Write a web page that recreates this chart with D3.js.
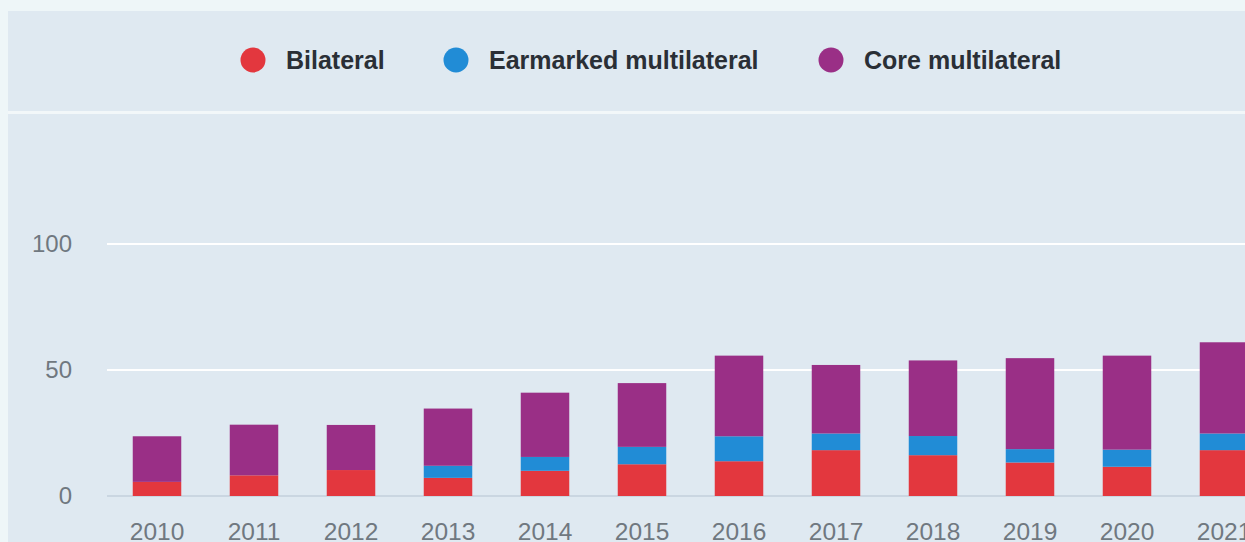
<!DOCTYPE html>
<html>
<head>
<meta charset="utf-8">
<script src="https://cdn.jsdelivr.net/npm/d3@7"></script>
<style>
  html, body { margin: 0; padding: 0; background: #eef6f8; }
  svg { display: block; }
</style>
</head>
<body>
<svg id="chart" width="1245" height="542"></svg>
<script>
// Aid flows by channel, 2010–2021
const years = ["2010","2011","2012","2013","2014","2015","2016","2017","2018","2019","2020","2021"];
const bilateral = [5.6, 8.2, 10.3, 7.2, 10.0, 12.6, 13.8, 18.2, 16.2, 13.3, 11.6, 18.2];
const earmarked = [0, 0, 0, 4.8, 5.5, 6.9, 9.9, 6.6, 7.6, 5.3, 6.8, 6.6];
const core = [18.1, 20.1, 17.9, 22.7, 25.5, 25.3, 32.0, 27.2, 30.0, 36.1, 37.3, 36.2];
const seriesNames = ["Bilateral", "Earmarked multilateral", "Core multilateral"];
const seriesColors = ["#e3373e", "#218cd6", "#9a2f86"];
const yTicks = [0, 50, 100];

const W = 1245, H = 542;
const svg = d3.select("#chart");

// panel background
svg.append("rect").attr("x", 8).attr("y", 11).attr("width", W - 8).attr("height", H - 11)
  .attr("fill", "#dfe9f1");
// separator between legend and plot
svg.append("rect").attr("x", 8).attr("y", 111).attr("width", W - 8).attr("height", 3)
  .attr("fill", "#f2f7f9");

// legend
const legendX = [253, 456, 831];
const legend = svg.append("g");
seriesNames.forEach((name, i) => {
  legend.append("circle").attr("cx", legendX[i]).attr("cy", 60).attr("r", 12.5)
    .attr("fill", seriesColors[i]);
  legend.append("text").attr("x", legendX[i] + 33).attr("y", 60)
    .attr("dy", "0.36em")
    .attr("font-family", "Liberation Sans, Arial, sans-serif")
    .attr("font-weight", "bold").attr("font-size", 25)
    .attr("fill", "#2a2f36").text(name);
});

// scales
const x = d3.scaleBand().domain(years).range([108.5, 1272.5])
  .paddingInner(0.5).paddingOuter(0.25);
const y = d3.scaleLinear().domain([0, 100]).range([496, 244]);

// gridlines
const grid = svg.append("g");
grid.selectAll("line").data(yTicks.filter(t => t > 0)).join("line")
  .attr("x1", 107).attr("x2", W).attr("y1", d => y(d)).attr("y2", d => y(d))
  .attr("stroke", "#ffffff").attr("stroke-width", 2);
grid.append("line").attr("x1", 107).attr("x2", W).attr("y1", y(0)).attr("y2", y(0))
  .attr("stroke", "#c3cfdb").attr("stroke-width", 1.5);

// stacked bars
const rows = years.map((yr, i) => ({ year: yr, b: bilateral[i], e: earmarked[i], c: core[i] }));
const stack = d3.stack().keys(["b", "e", "c"]);
const layers = stack(rows);
svg.append("g").selectAll("g").data(layers).join("g")
  .attr("fill", (d, i) => seriesColors[i])
  .selectAll("rect").data(d => d).join("rect")
  .attr("x", d => x(d.data.year))
  .attr("width", x.bandwidth())
  .attr("y", d => y(d[1]))
  .attr("height", d => y(d[0]) - y(d[1]));

// y axis labels
const yAxis = d3.axisLeft(y).tickValues(yTicks).tickSize(0).tickPadding(0);
const ya = svg.append("g").attr("transform", "translate(72,0)").call(yAxis);
ya.select(".domain").remove();
ya.selectAll("text").attr("font-family", "Liberation Sans, Arial, sans-serif")
  .attr("font-size", 24).attr("fill", "#707880");

// x axis labels
const xAxis = d3.axisBottom(x).tickSize(0).tickPadding(0);
const xa = svg.append("g").attr("transform", "translate(0,523)").call(xAxis);
xa.select(".domain").remove();
xa.selectAll("text").attr("font-family", "Liberation Sans, Arial, sans-serif")
  .attr("font-size", 24.5).attr("fill", "#707880");
</script>
</body>
</html>
